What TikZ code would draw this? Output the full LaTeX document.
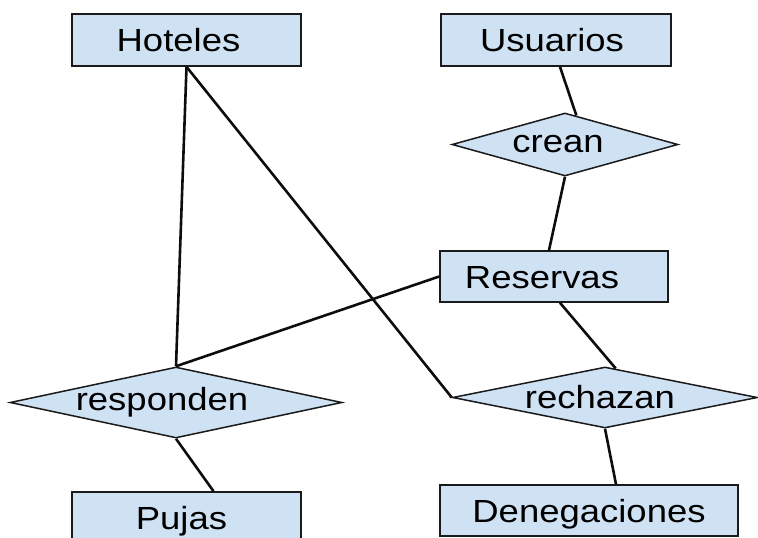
\documentclass[tikz,border=0pt]{standalone}
\usepackage{fontspec}
\setmainfont[FakeStretch=1.14]{Liberation Sans}
\usetikzlibrary{shapes.geometric, calc}
\definecolor{erazul}{HTML}{CFE2F3}
\definecolor{erborde}{HTML}{1A1A1A}
\tikzset{
    entidad/.style={rectangle, draw=erborde, line width=1.6pt, fill=erazul, inner sep=0pt,
        minimum width=229pt, minimum height=52pt, text height=23pt, text depth=0pt,
        font=\fontsize{32}{38}\selectfont},
    relacion/.style={diamond, draw=erborde, line width=1.5pt, fill=erazul, inner sep=0pt,
        font=\fontsize{32}{38}\selectfont},
    enlace/.style={line width=2.6pt, black!95}
}
\newcommand{\etiq}[2][0pt]{\makebox[0pt]{\hspace*{#1}#2}}

\begin{document}
\begin{tikzpicture}[x=1pt, y=-1pt]
  \useasboundingbox (0,0) rectangle (758,538);

  % entidades
  \node (hoteles) [entidad] at (186.5,40) {\etiq[-16pt]{Hoteles}};
  \node (usuarios) [entidad, minimum width=230pt] at (556,40) {\etiq[-8pt]{Usuarios}};
  \node (reservas) [entidad, minimum width=228pt, minimum height=51pt] at (554,276.5) {\etiq[-24pt]{Reservas}};
  \node (pujas) [entidad] at (186.5,518) {\etiq[-10pt]{Pujas}};
  \node (denegaciones) [entidad, minimum width=298pt, minimum height=51pt] at (589,510.5) {\etiq{Denegaciones}};

  % relaciones
  \node (crean) [relacion, minimum width=226pt, minimum height=63pt] at (565,144.5) {\etiq[-14pt]{crean}};
  \node (responden) [relacion, minimum width=332pt, minimum height=71pt] at (176,402.5) {\etiq[-28pt]{responden}};
  \node (rechazan) [relacion, minimum width=305pt, minimum height=61pt] at (605,397.5) {\etiq[-10pt]{rechazan}};

  % enlaces
  \draw [enlace] (hoteles.south) -- (responden.north);
  \draw [enlace] (hoteles.south) -- (rechazan.west);
  \draw [enlace] ([xshift=4pt]usuarios.south) -- ($(crean.north)!0.1!(crean.east)$);
  \draw [enlace] (crean.south) -- ([xshift=-5pt]reservas.north);
  \draw [enlace] (reservas.west) -- (responden.north);
  \draw [enlace] ([xshift=6pt]reservas.south) -- ($(rechazan.north)!0.07!(rechazan.east)$);
  \draw [enlace] (rechazan.south) -- ([xshift=27pt]denegaciones.north);
  \draw [enlace] (responden.south) -- ([xshift=27pt]pujas.north);
\end{tikzpicture}
\end{document}
